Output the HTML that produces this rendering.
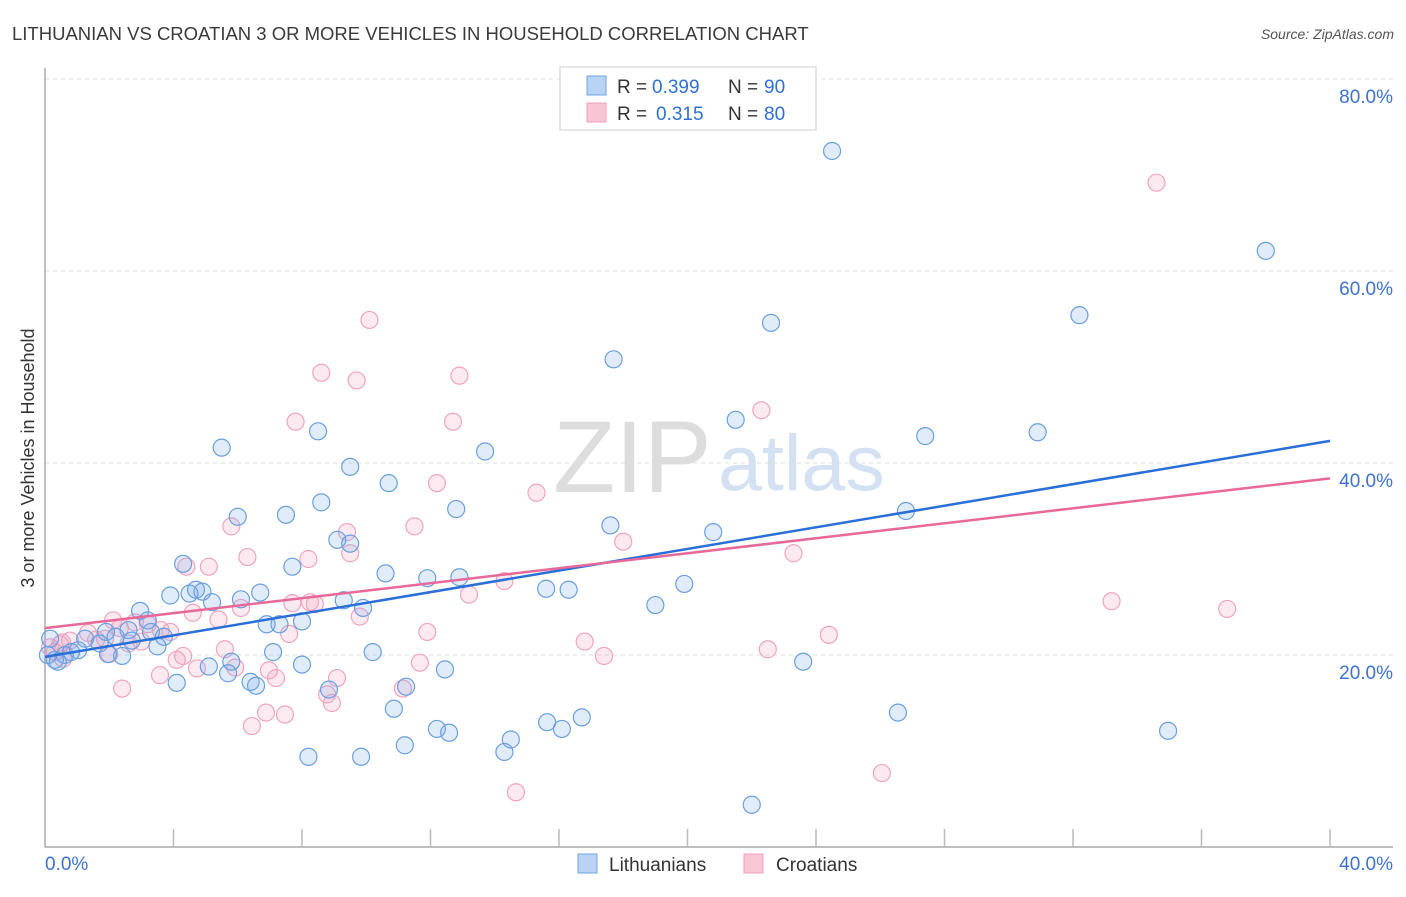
<!DOCTYPE html>
<html><head><meta charset="utf-8"><style>
body{margin:0;background:#fff;font-family:"Liberation Sans",sans-serif}
svg text{font-family:"Liberation Sans",sans-serif}
</style></head><body>
<svg width="1406" height="892" viewBox="0 0 1406 892" xmlns="http://www.w3.org/2000/svg">
<text x="12" y="40" font-size="18.5" fill="#3a3a3a">LITHUANIAN VS CROATIAN 3 OR MORE VEHICLES IN HOUSEHOLD CORRELATION CHART</text>
<text x="1394" y="39" font-size="14" fill="#555" font-style="italic" text-anchor="end">Source: ZipAtlas.com</text>
<text x="0" y="0" transform="translate(34,458) rotate(-90)" font-size="18" fill="#333" text-anchor="middle">3 or more Vehicles in Household</text>
<g><text x="553" y="492" font-size="102" fill="#ddd" font-family="Liberation Serif">ZIP</text><text x="718" y="490" font-size="79" fill="#d3e1f3">atlas</text></g>
<g id="grid"></g><g id="axes"></g><g id="pts"></g><g id="trends"></g>
<g>
<rect x="560" y="67" width="256" height="63" fill="#fff" stroke="#ccc"/>
<rect x="587" y="76" width="19" height="19" fill="#b9d3f5" stroke="#6fa3e0"/>
<rect x="587" y="103" width="19" height="19" fill="#f8c6d5" stroke="#f0a0bd"/>
<text y="93" font-size="19" fill="#333"><tspan x="617">R =</tspan><tspan x="652" fill="#2f6fd6">0.399</tspan><tspan x="728">N =</tspan><tspan x="764" fill="#2f6fd6">90</tspan></text>
<text y="120" font-size="19" fill="#333"><tspan x="617">R =</tspan><tspan x="656" fill="#2f6fd6">0.315</tspan><tspan x="728">N =</tspan><tspan x="764" fill="#2f6fd6">80</tspan></text>
</g>
<g>
<rect x="578" y="854" width="19" height="19" fill="#b9d3f5" stroke="#6fa3e0"/>
<text x="609" y="871" font-size="19" fill="#333">Lithuanians</text>
<rect x="744" y="854" width="19" height="19" fill="#f8c6d5" stroke="#f0a0bd"/>
<text x="776" y="871" font-size="19" fill="#333">Croatians</text>
</g>
<script>
const xTicks=[0,4,8,12,16,20,24,28,32,36,40];
const yTicks=[20,40,60,80];
const yTickLabels=["20.0%","40.0%","60.0%","80.0%"];
const xEndLabels=["0.0%","40.0%"];
const blueX=[24.5,38,22.6,32.2,17.7,21.5,27.4,30.9,5.5,8.5,13.7,9.5,10.7,6,7.5,8.6,12.8,17.6,20.8,26.8,9.1,9.5,4.3,7.7,10.6,11.9,12.9,15.6,16.3,19.9,3.9,4.7,4.9,5.2,6.1,6.7,4.5,2.96,3.2,9.3,9.9,19,6.9,7.3,8,2.6,3.3,3.7,1.9,1.25,1.7,2.7,3.5,2.2,5.8,7.1,8,10.2,5.1,2.4,1.96,1.03,0.62,0.31,0.16,0.09,0.4,0.81,4.1,5.7,6.4,6.57,12.45,23.6,8.84,11.24,10.86,12.2,12.58,15.63,16.09,16.71,14.5,11.2,14.3,8.2,9.84,26.55,34.96,22
];
const blueY=[72.5,62.1,54.6,55.4,50.8,44.5,42.8,43.2,41.6,43.3,41.2,39.6,37.9,34.4,34.6,35.9,35.2,33.5,32.8,35,32,31.6,29.5,29.2,28.5,28,28.1,26.9,26.8,27.4,26.2,26.8,26.6,25.5,25.8,26.5,26.4,24.6,23.6,25.7,24.9,25.2,23.2,23.2,23.5,22.6,22.4,21.9,22.4,21.7,21.2,21.5,20.9,21.9,19.3,20.3,19,20.3,18.8,19.9,20.1,20.5,20,19.5,21.7,20,19.3,20.3,17.1,18.1,17.2,16.8,18.5,19.3,16.4,16.7,14.4,12.3,11.9,13,12.3,13.5,11.2,10.6,9.9,9.4,9.4,14,12.1,4.4
];
const pinkX=[34.6,10.1,8.6,9.7,12.9,7.8,12.7,22.3,12.2,15.3,11.5,5.8,9.4,9.5,8.2,6.3,4.4,5.1,18,23.3,14.3,13.2,33.2,36.8,4.6,6.1,5.4,7.7,8.25,8.4,9.8,3.2,3.6,3.9,1.87,2.33,1.34,1.59,0.78,0.47,0.16,0.31,0.53,2.8,2.6,3,2.12,2,0.56,16.8,24.4,11.9,7.6,5.6,4.3,4.73,5.92,4.1,6.97,7.19,9.09,17.4,22.5,11.67,11.14,3.58,2.4,8.78,8.93,6.88,7.47,6.44,26.05,14.66
];
const pinkY=[69.2,54.9,49.4,48.6,49.1,44.3,44.3,45.5,37.9,36.9,33.4,33.4,32.8,30.6,30,30.2,29.2,29.2,31.8,30.6,27.7,26.3,25.6,24.8,24.4,24.9,23.7,25.4,25.5,25.3,24,23.2,22.6,22.4,21.7,22.8,22.3,21.6,21.5,21.1,20.8,20.3,21.3,23.4,21.2,21.4,23.6,20.1,19.6,21.4,22.1,22.4,22.2,20.6,19.9,18.6,18.7,19.5,18.4,17.6,17.6,19.9,20.6,19.2,16.5,17.9,16.5,15.9,15,14,13.8,12.6,7.7,5.7
];
const blueTrend=[19.8,42.3];
const pinkTrend=[22.8,38.4];
const NS="http://www.w3.org/2000/svg";
const X0=45,X1=1330,YB=847;
function sx(v){return X0+(v/40)*(X1-X0);}
function sy(v){return YB-v*9.6;}
function mk(t,a,p){const e=document.createElementNS(NS,t);for(const k in a)e.setAttribute(k,a[k]);p.appendChild(e);return e;}
const grid=document.getElementById('grid'),axes=document.getElementById('axes'),pts=document.getElementById('pts'),tr=document.getElementById('trends');
yTicks.forEach((v,i)=>{
 const l=mk('line',{x1:45,x2:1393,y1:sy(v),y2:sy(v),stroke:'#ddd','stroke-dasharray':'4,4'},grid);
 
 
 const t=mk('text',{x:1393,y:sy(v)+24,'font-size':19,fill:'#3d72d4','text-anchor':'end'},axes);
 t.textContent=yTickLabels[i];
 
 
});
const ax=mk('path',{d:'M45,68V847H1393',fill:'none',stroke:'#aaa','stroke-width':1.5},axes);


xTicks.forEach(v=>{if(v===0)return;
 const l=mk('line',{x1:sx(v),x2:sx(v),y1:829,y2:847,stroke:'#bbb','stroke-width':1.5},axes);
 
 
});
[[45,'start',0],[1393,'end',1]].forEach(a=>{
 const t=mk('text',{x:a[0],y:870,'font-size':19,fill:'#3d72d4','text-anchor':a[1]},axes);
 t.textContent=xEndLabels[a[2]];
 
 
});
function dots(xs,ys,fill,stroke,name){xs.forEach((x,i)=>{
 const c=mk('circle',{cx:sx(x),cy:sy(ys[i]),r:8.5,fill:fill,stroke:stroke,'stroke-width':1.2},pts);
 
 
});}
dots(pinkX,pinkY,'rgba(244,160,188,0.22)','#f0a4bf','croatian-point');
dots(blueX,blueY,'rgba(120,170,235,0.22)','#6a9fe0','lithuanian-point');
const b=mk('line',{x1:sx(0),y1:sy(blueTrend[0]),x2:sx(40),y2:sy(blueTrend[1]),stroke:'#2a6fd8','stroke-width':2.5},tr);


const p=mk('line',{x1:sx(0),y1:sy(pinkTrend[0]),x2:sx(40),y2:sy(pinkTrend[1]),stroke:'#e8689a','stroke-width':2.5},tr);


</script>
</svg>
</body></html>
